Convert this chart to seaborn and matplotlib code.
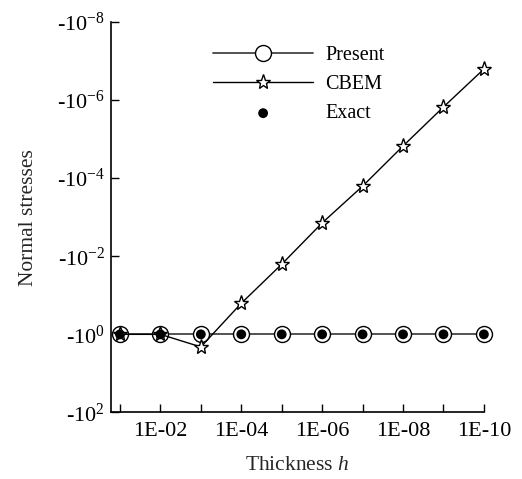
import numpy as np
import pandas as pd
import seaborn as sns
import matplotlib
matplotlib.use("Agg")
import matplotlib.pyplot as plt
from matplotlib.ticker import FixedLocator, NullLocator

# thickness h and normal stresses (all negative)
thickness = [1e-1, 1e-2, 1e-3, 1e-4, 1e-5, 1e-6, 1e-7, 1e-8, 1e-9, 1e-10]
present = [-1.0, -1.0, -1.0, -1.0, -1.0, -1.0, -1.0, -1.0, -1.0, -1.0]
cbem = [-1.0, -1.0, -2.1, -0.16, -1.6e-2, -1.4e-3, -1.6e-4, -1.5e-5, -1.5e-6, -1.6e-7]
exact = [-1.0, -1.0, -1.0, -1.0, -1.0, -1.0, -1.0, -1.0, -1.0, -1.0]

xticks = [1e-1, 1e-2, 1e-3, 1e-4, 1e-5, 1e-6, 1e-7, 1e-8, 1e-9, 1e-10]
xticklabels = ["", "1E-02", "", "1E-04", "", "1E-06", "", "1E-08", "", "1E-10"]
yticks = [1e-8, 1e-6, 1e-4, 1e-2, 1e0, 1e2]
yticklabels = ["-10$^{-8}$", "-10$^{-6}$", "-10$^{-4}$", "-10$^{-2}$", "-10$^{0}$", "-10$^{2}$"]

sns.set_style("ticks")
plt.rcParams["font.family"] = ["Liberation Serif", "DejaVu Serif"]
plt.rcParams["mathtext.fontset"] = "custom"
plt.rcParams["mathtext.rm"] = "Liberation Serif"
plt.rcParams["mathtext.it"] = "Liberation Serif:italic"

df = pd.DataFrame({
    "h": thickness,
    "present": -np.array(present),
    "cbem": -np.array(cbem),
    "exact": -np.array(exact),
})

fig = plt.figure(figsize=(5.22, 4.79), dpi=100)
ax = fig.add_axes([0.212, 0.139, 0.715, 0.815])
ax.set_xscale("log")
ax.set_yscale("log")

sns.lineplot(data=df, x="h", y="present", ax=ax, color="#444444", lw=1.3,
             marker="o", markersize=11.5, markerfacecolor="white",
             markeredgecolor="black", markeredgewidth=1.0,
             label="Present", clip_on=False, zorder=3)
sns.lineplot(data=df, x="h", y="cbem", ax=ax, color="black", lw=1.0,
             marker="*", markersize=11, markerfacecolor="white",
             markeredgecolor="black", markeredgewidth=1.0,
             label="CBEM", clip_on=False, zorder=4)
sns.scatterplot(data=df, x="h", y="exact", ax=ax, color="black", s=50,
                edgecolor="none", label="Exact", clip_on=False, zorder=5)

ax.set_xlim(10 ** -0.77, 1e-10)
ax.set_ylim(1e2, 1e-8)

ax.xaxis.set_major_locator(FixedLocator(xticks))
ax.xaxis.set_minor_locator(NullLocator())
ax.set_xticklabels(xticklabels)
ax.yaxis.set_major_locator(FixedLocator(yticks))
ax.yaxis.set_minor_locator(NullLocator())
ax.set_yticklabels(yticklabels)
ax.tick_params(direction="in", length=6, width=1.0, labelsize=16, colors="black")
ax.tick_params(axis="x", pad=7)
ax.tick_params(axis="y", pad=4)

for s in ["left", "bottom"]:
    ax.spines[s].set_linewidth(1.2)
    ax.spines[s].set_color("black")
sns.despine(ax=ax)

ax.set_xlabel("Thickness $\\mathit{h}$", fontsize=15.5, labelpad=11)
ax.set_ylabel("Normal stresses", fontsize=15.5, labelpad=14)

leg = ax.legend(loc="upper left", bbox_to_anchor=(0.225, 0.985), frameon=False,
                fontsize=14.5, handlelength=5.0, labelspacing=0.5, handletextpad=0.6)
for t in leg.get_texts():
    t.set_color("black")

fig.savefig("out.png", dpi=100)
